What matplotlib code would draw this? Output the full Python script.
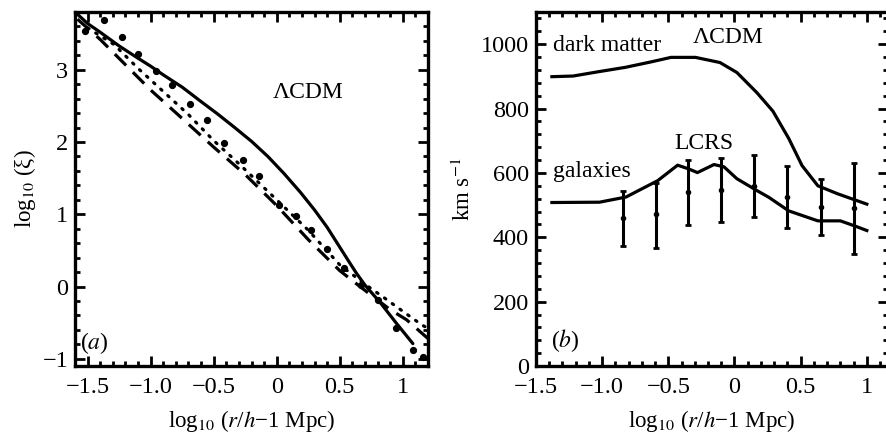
import matplotlib
matplotlib.use('Agg')
import matplotlib.pyplot as plt
from matplotlib.ticker import MultipleLocator, FixedLocator, FixedFormatter

plt.rcParams['font.family'] = ['Liberation Serif', 'DejaVu Serif']
plt.rcParams['mathtext.fontset'] = 'stix'

# panel (a): correlation functions
solid_x = [-1.6, -1.5, -1.4, -1.25, -1.1, -1.0, -0.9, -0.75, -0.6, -0.47, -0.34, -0.2, -0.07,
           0.06, 0.19, 0.30, 0.40, 0.48, 0.56, 0.63, 0.70, 0.82, 0.95, 1.08]
solid_y = [3.80, 3.64, 3.52, 3.33, 3.16, 3.05, 2.93, 2.76, 2.56, 2.39, 2.21, 2.01, 1.80,
           1.56, 1.30, 1.06, 0.82, 0.60, 0.38, 0.19, 0.02, -0.22, -0.51, -0.79]

dash_x = [-1.58, -1.4, -1.2, -1.0, -0.79, -0.5, -0.25, 0.0, 0.25, 0.5, 0.66, 0.9, 1.03, 1.2]
dash_y = [3.70, 3.42, 3.07, 2.72, 2.39, 1.93, 1.55, 1.12, 0.65, 0.22, 0.0, -0.32, -0.46, -0.72]

dot_x = [-1.5, -1.29, -1.1, -0.9, -0.7, -0.5, -0.3, 0.0, 0.25, 0.5, 0.71, 0.84, 0.99, 1.15, 1.2]
dot_y = [3.58, 3.35, 3.02, 2.70, 2.38, 2.02, 1.70, 1.20, 0.78, 0.30, 0.02, -0.14, -0.33, -0.53, -0.58]

pts_x = [-1.52, -1.37, -1.23, -1.10, -0.96, -0.83, -0.69, -0.55, -0.42, -0.27, -0.14,
         0.02, 0.15, 0.27, 0.40, 0.53, 0.67, 0.80, 0.95, 1.08, 1.16]
pts_y = [3.54, 3.69, 3.45, 3.22, 2.98, 2.79, 2.52, 2.31, 1.99, 1.75, 1.53,
         1.13, 0.98, 0.78, 0.52, 0.25, 0.02, -0.18, -0.57, -0.88, -0.97]

# panel (b): pairwise velocity dispersion
dm_x = [-1.38, -1.22, -1.02, -0.825, -0.63, -0.48, -0.295, -0.11, 0.018, 0.17, 0.29, 0.41, 0.51, 0.63, 0.78, 0.89, 1.0]
dm_y = [899, 901, 915, 928, 945, 959, 959, 943, 912, 849, 792, 707, 623, 560, 535, 519, 503]

gal_x = [-1.38, -1.02, -0.82, -0.58, -0.43, -0.35, -0.28, -0.155, -0.08, 0.018, 0.17, 0.26, 0.41, 0.63, 0.80, 0.91, 1.0]
gal_y = [508, 509, 525, 576, 624, 613, 601, 626, 619, 582, 545, 524, 482, 451, 451, 435, 421]

lcrs_x = [-0.84, -0.59, -0.35, -0.10, 0.15, 0.40, 0.65, 0.90]
lcrs_y = [459, 472, 540, 547, 558, 526, 495, 490]
lcrs_hi = [543, 569, 641, 647, 655, 620, 582, 631]
lcrs_lo = [372, 367, 437, 447, 463, 430, 406, 349]

xticks = [-1.5, -1.0, -0.5, 0, 0.5, 1]
xticklabels = ['\u22121.5', '\u22121.0', '\u22120.5', '0', '0.5', '1']
yticks_a = [-1, 0, 1, 2, 3]
yticklabels_a = ['\u22121', '0', '1', '2', '3']

fig = plt.figure(figsize=(8.86, 4.33), dpi=100)
ax1 = fig.add_axes([75/886, 1 - 366/433, (428 - 75)/886, (366 - 12)/433])
ax2 = fig.add_axes([536/886, 1 - 366/433, (888 - 536)/886, (366 - 12)/433])

lw = 2.3
fs = 17
ax1.plot(solid_x, solid_y, color='black', lw=lw, solid_capstyle='round', solid_joinstyle='round')
ax1.plot(dash_x, dash_y, color='black', lw=lw, linestyle=(0, (5, 3)))
ax1.plot(dot_x, dot_y, color='black', lw=lw, linestyle=(0, (0.5, 2.5)), dash_capstyle='round')
ax1.plot(pts_x, pts_y, 'o', color='black', ms=4.2, linestyle='none')

ax1.set_xlim(-1.6, 1.2)
ax1.set_ylim(-1.1, 3.8)
ax1.text(0.25, 2.69, '\u039bCDM', fontsize=fs, ha='center', va='center')
ax1.text(-1.56, -0.78, '($a$)', fontsize=fs, ha='left', va='center')
ax1.set_ylabel('log$_{10}$ (\u03be)', fontsize=16.5, labelpad=3)
ax1.xaxis.set_major_locator(FixedLocator(xticks))
ax1.xaxis.set_major_formatter(FixedFormatter(xticklabels))
ax1.xaxis.set_minor_locator(MultipleLocator(0.1))
ax1.yaxis.set_major_locator(FixedLocator(yticks_a))
ax1.yaxis.set_major_formatter(FixedFormatter(yticklabels_a))
ax1.yaxis.set_minor_locator(MultipleLocator(0.2))

ax2.plot(dm_x, dm_y, color='black', lw=lw, solid_joinstyle='round')
ax2.plot(gal_x, gal_y, color='black', lw=lw, solid_joinstyle='round')
err = [[y - lo for y, lo in zip(lcrs_y, lcrs_lo)], [hi - y for y, hi in zip(lcrs_y, lcrs_hi)]]
ax2.errorbar(lcrs_x, lcrs_y, yerr=err, fmt='o', color='black', ms=3, elinewidth=2.2,
             capsize=2.5, capthick=2)

ax2.set_xlim(-1.5, 1.16)
ax2.set_ylim(0, 1100)
ax2.text(-1.37, 995, 'dark matter', fontsize=fs, ha='left', va='center')
ax2.text(-0.05, 1022, '\u039bCDM', fontsize=fs, ha='center', va='center')
ax2.text(-0.23, 690, 'LCRS', fontsize=fs, ha='center', va='center')
ax2.text(-1.37, 603, 'galaxies', fontsize=fs, ha='left', va='center')
ax2.text(-1.39, 80, '($b$)', fontsize=fs, ha='left', va='center')
ax2.set_ylabel('km s$^{-1}$', fontsize=16.5, labelpad=4)
ax2.xaxis.set_major_locator(FixedLocator(xticks))
ax2.xaxis.set_major_formatter(FixedFormatter(xticklabels))
ax2.xaxis.set_minor_locator(MultipleLocator(0.1))
ax2.yaxis.set_major_locator(MultipleLocator(200))
ax2.yaxis.set_minor_locator(MultipleLocator(40))

for ax in (ax1, ax2):
    ax.set_xlabel('log$_{10}$ ($r$/$h$\u22121 Mpc)', fontsize=16.5, labelpad=7)
    for s in ax.spines.values():
        s.set_linewidth(2.4)
    ax.tick_params(which='both', direction='in', top=True, right=True, width=2, labelsize=17.5)
    ax.tick_params(axis='x', which='both', pad=8)
    ax.tick_params(axis='y', which='both', pad=5)
    ax.tick_params(which='major', length=7)
    ax.tick_params(which='minor', length=3.5)

plt.savefig('out.png', dpi=100)
